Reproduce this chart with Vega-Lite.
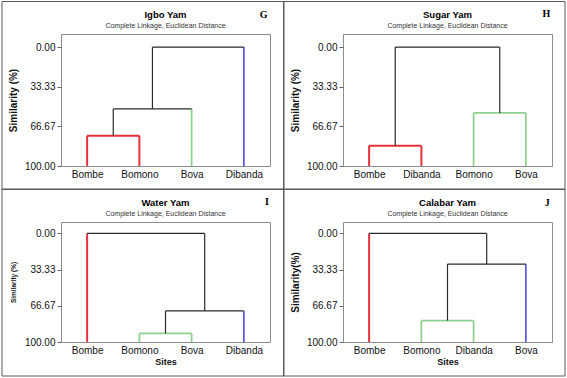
{
  "$schema": "https://vega.github.io/schema/vega-lite/v6.json",
  "padding": 0,
  "background": "white",
  "spacing": -4,
  "bounds": "full",
  "columns": 2,
  "config": {
    "view": {"stroke": "#8c8c8c", "strokeWidth": 1},
    "font": "Liberation Sans",
    "axis": {"domain": false, "grid": false, "labelFont": "Liberation Sans", "labelFontSize": 10, "labelColor": "#111", "tickColor": "#666", "titleFont": "Liberation Sans", "titleFontWeight": "bold", "titleColor": "#111"},
    "axisY": {"tickSize": 4, "labelPadding": 2, "titleFontSize": 10, "titlePadding": 6, "tickCount": 6},
    "axisX": {"ticks": false, "labelPadding": 3, "titleFontSize": 9, "titlePadding": 2},
    "title": {"font": "Liberation Sans", "fontSize": 9.5, "fontWeight": "bold", "color": "#000", "subtitleFont": "Liberation Sans", "subtitleFontSize": 7, "subtitleColor": "#333", "subtitlePadding": 2, "offset": -28, "anchor": "middle"}
  },
  "datasets": {
    "segs": [
      {"panel": "Igbo Yam", "x": 1, "x2": 1, "y": 100, "y2": 74.5, "grp": "red"},
      {"panel": "Igbo Yam", "x": 2, "x2": 2, "y": 100, "y2": 74.5, "grp": "red"},
      {"panel": "Igbo Yam", "x": 1, "x2": 2, "y": 74.5, "y2": 74.5, "grp": "red"},
      {"panel": "Igbo Yam", "x": 1.5, "x2": 1.5, "y": 74.5, "y2": 52, "grp": "black"},
      {"panel": "Igbo Yam", "x": 3, "x2": 3, "y": 100, "y2": 52, "grp": "green"},
      {"panel": "Igbo Yam", "x": 1.5, "x2": 3, "y": 52, "y2": 52, "grp": "black"},
      {"panel": "Igbo Yam", "x": 2.25, "x2": 2.25, "y": 52, "y2": 0, "grp": "black"},
      {"panel": "Igbo Yam", "x": 4, "x2": 4, "y": 100, "y2": 0, "grp": "blue"},
      {"panel": "Igbo Yam", "x": 2.25, "x2": 4, "y": 0, "y2": 0, "grp": "black"},

      {"panel": "Sugar Yam", "x": 1, "x2": 1, "y": 100, "y2": 82.9, "grp": "red"},
      {"panel": "Sugar Yam", "x": 2, "x2": 2, "y": 100, "y2": 82.9, "grp": "red"},
      {"panel": "Sugar Yam", "x": 1, "x2": 2, "y": 82.9, "y2": 82.9, "grp": "red"},
      {"panel": "Sugar Yam", "x": 3, "x2": 3, "y": 100, "y2": 55.4, "grp": "green"},
      {"panel": "Sugar Yam", "x": 4, "x2": 4, "y": 100, "y2": 55.4, "grp": "green"},
      {"panel": "Sugar Yam", "x": 3, "x2": 4, "y": 55.4, "y2": 55.4, "grp": "green"},
      {"panel": "Sugar Yam", "x": 1.5, "x2": 1.5, "y": 82.9, "y2": 0, "grp": "black"},
      {"panel": "Sugar Yam", "x": 3.5, "x2": 3.5, "y": 55.4, "y2": 0, "grp": "black"},
      {"panel": "Sugar Yam", "x": 1.5, "x2": 3.5, "y": 0, "y2": 0, "grp": "black"},

      {"panel": "Water Yam", "x": 1, "x2": 1, "y": 100, "y2": 0, "grp": "red"},
      {"panel": "Water Yam", "x": 2, "x2": 2, "y": 100, "y2": 92, "grp": "green"},
      {"panel": "Water Yam", "x": 3, "x2": 3, "y": 100, "y2": 92, "grp": "green"},
      {"panel": "Water Yam", "x": 2, "x2": 3, "y": 92, "y2": 92, "grp": "green"},
      {"panel": "Water Yam", "x": 2.5, "x2": 2.5, "y": 92, "y2": 71.4, "grp": "black"},
      {"panel": "Water Yam", "x": 4, "x2": 4, "y": 100, "y2": 71.4, "grp": "blue"},
      {"panel": "Water Yam", "x": 2.5, "x2": 4, "y": 71.4, "y2": 71.4, "grp": "black"},
      {"panel": "Water Yam", "x": 3.25, "x2": 3.25, "y": 71.4, "y2": 0, "grp": "black"},
      {"panel": "Water Yam", "x": 1, "x2": 3.25, "y": 0, "y2": 0, "grp": "black"},

      {"panel": "Calabar Yam", "x": 1, "x2": 1, "y": 100, "y2": 0, "grp": "red"},
      {"panel": "Calabar Yam", "x": 2, "x2": 2, "y": 100, "y2": 80.3, "grp": "green"},
      {"panel": "Calabar Yam", "x": 3, "x2": 3, "y": 100, "y2": 80.3, "grp": "green"},
      {"panel": "Calabar Yam", "x": 2, "x2": 3, "y": 80.3, "y2": 80.3, "grp": "green"},
      {"panel": "Calabar Yam", "x": 2.5, "x2": 2.5, "y": 80.3, "y2": 28.3, "grp": "black"},
      {"panel": "Calabar Yam", "x": 4, "x2": 4, "y": 100, "y2": 28.3, "grp": "blue"},
      {"panel": "Calabar Yam", "x": 2.5, "x2": 4, "y": 28.3, "y2": 28.3, "grp": "black"},
      {"panel": "Calabar Yam", "x": 3.25, "x2": 3.25, "y": 28.3, "y2": 0, "grp": "black"},
      {"panel": "Calabar Yam", "x": 1, "x2": 3.25, "y": 0, "y2": 0, "grp": "black"}
    ]
  },
  "concat": [
    {
      "width": 209, "height": 132,
      "title": {"text": "Igbo Yam", "subtitle": "Complete Linkage, Euclidean Distance"},
      "layer": [
        {
          "data": {"name": "segs"},
          "transform": [{"filter": "datum.panel === 'Igbo Yam'"}],
          "mark": {"type": "rule"},
          "encoding": {
            "x": {"field": "x", "type": "quantitative", "scale": {"domain": [0.5, 4.5], "nice": false, "zero": false}, "axis": {"values": [1, 2, 3, 4], "labelExpr": "['','Bombe','Bomono','Bova','Dibanda'][datum.value]", "title": null}},
            "x2": {"field": "x2"},
            "y": {"field": "y", "type": "quantitative", "scale": {"domain": [-11, 100], "reverse": true, "nice": false, "zero": false}, "axis": {"values": [0, 33.33, 66.67, 100], "format": ".2f", "title": "Similarity (%)"}},
            "y2": {"field": "y2"},
            "color": {"field": "grp", "type": "nominal", "scale": {"domain": ["red", "green", "blue", "black"], "range": ["#e8303a", "#8ed08e", "#3a3ae6", "#2a2a2a"]}, "legend": null},
            "strokeWidth": {"field": "grp", "type": "nominal", "scale": {"domain": ["red", "green", "blue", "black"], "range": [2, 1.2, 1.5, 1.5]}, "legend": null}
          }
        },
        {
          "data": {"values": [{"label": "G"}]},
          "mark": {"type": "rect", "filled": false, "color": "#5a5a5a", "strokeWidth": 1, "strokeJoin": "bevel"},
          "encoding": {"x": {"datum": -0.6292}, "x2": {"datum": 4.768}, "y": {"datum": -38.33}, "y2": {"datum": 119.76}}
        },
        {
          "data": {"values": [{"label": "G"}]},
          "mark": {"type": "text", "font": "Liberation Serif", "fontWeight": "bold", "fontSize": 10, "align": "center", "baseline": "middle", "color": "#000"},
          "encoding": {"x": {"datum": 4.379}, "y": {"datum": -26.56}, "text": {"field": "label"}}
        }
      ]
    },
    {
      "width": 209, "height": 132,
      "title": {"text": "Sugar Yam", "subtitle": "Complete Linkage, Euclidean Distance"},
      "layer": [
        {
          "data": {"name": "segs"},
          "transform": [{"filter": "datum.panel === 'Sugar Yam'"}],
          "mark": {"type": "rule"},
          "encoding": {
            "x": {"field": "x", "type": "quantitative", "scale": {"domain": [0.5, 4.5], "nice": false, "zero": false}, "axis": {"values": [1, 2, 3, 4], "labelExpr": "['','Bombe','Dibanda','Bomono','Bova'][datum.value]", "title": null}},
            "x2": {"field": "x2"},
            "y": {"field": "y", "type": "quantitative", "scale": {"domain": [-11, 100], "reverse": true, "nice": false, "zero": false}, "axis": {"values": [0, 33.33, 66.67, 100], "format": ".2f", "title": "Similarity (%)"}},
            "y2": {"field": "y2"},
            "color": {"field": "grp", "type": "nominal", "scale": {"domain": ["red", "green", "blue", "black"], "range": ["#e8303a", "#8ed08e", "#3a3ae6", "#2a2a2a"]}, "legend": null},
            "strokeWidth": {"field": "grp", "type": "nominal", "scale": {"domain": ["red", "green", "blue", "black"], "range": [2, 1.2, 1.5, 1.5]}, "legend": null}
          }
        },
        {
          "data": {"values": [{"label": "H"}]},
          "mark": {"type": "rect", "filled": false, "color": "#5a5a5a", "strokeWidth": 1, "strokeJoin": "bevel"},
          "encoding": {"x": {"datum": -0.6388}, "x2": {"datum": 4.7488}, "y": {"datum": -38.33}, "y2": {"datum": 119.76}}
        },
        {
          "data": {"values": [{"label": "H"}]},
          "mark": {"type": "text", "font": "Liberation Serif", "fontWeight": "bold", "fontSize": 10, "align": "center", "baseline": "middle", "color": "#000"},
          "encoding": {"x": {"datum": 4.395}, "y": {"datum": -27.8}, "text": {"field": "label"}}
        }
      ]
    },
    {
      "width": 209, "height": 120,
      "title": {"text": "Water Yam", "subtitle": "Complete Linkage, Euclidean Distance", "offset": -28.5},
      "layer": [
        {
          "data": {"name": "segs"},
          "transform": [{"filter": "datum.panel === 'Water Yam'"}],
          "mark": {"type": "rule"},
          "encoding": {
            "x": {"field": "x", "type": "quantitative", "scale": {"domain": [0.5, 4.5], "nice": false, "zero": false}, "axis": {"values": [1, 2, 3, 4], "labelExpr": "['','Bombe','Bomono','Bova','Dibanda'][datum.value]", "title": "Sites"}},
            "x2": {"field": "x2"},
            "y": {"field": "y", "type": "quantitative", "scale": {"domain": [-10.5, 100], "reverse": true, "nice": false, "zero": false}, "axis": {"values": [0, 33.33, 66.67, 100], "format": ".2f", "title": "Similarity (%)", "titleFontSize": 6.5, "titlePadding": 8}},
            "y2": {"field": "y2"},
            "color": {"field": "grp", "type": "nominal", "scale": {"domain": ["red", "green", "blue", "black"], "range": ["#e8303a", "#8ed08e", "#3a3ae6", "#2a2a2a"]}, "legend": null},
            "strokeWidth": {"field": "grp", "type": "nominal", "scale": {"domain": ["red", "green", "blue", "black"], "range": [2, 1.2, 1.5, 1.5]}, "legend": null}
          }
        },
        {
          "data": {"values": [{"label": "I"}]},
          "mark": {"type": "rect", "filled": false, "color": "#5a5a5a", "strokeWidth": 1, "strokeJoin": "bevel"},
          "encoding": {"x": {"datum": -0.6292}, "x2": {"datum": 4.768}, "y": {"datum": -40.89}, "y2": {"datum": 131.31}}
        },
        {
          "data": {"values": [{"label": "I"}]},
          "mark": {"type": "text", "font": "Liberation Serif", "fontWeight": "bold", "fontSize": 10, "align": "center", "baseline": "middle", "color": "#000"},
          "encoding": {"x": {"datum": 4.443}, "y": {"datum": -29.19}, "text": {"field": "label"}}
        }
      ]
    },
    {
      "width": 209, "height": 120,
      "title": {"text": "Calabar Yam", "subtitle": "Complete Linkage, Euclidean Distance", "offset": -28.5},
      "layer": [
        {
          "data": {"name": "segs"},
          "transform": [{"filter": "datum.panel === 'Calabar Yam'"}],
          "mark": {"type": "rule"},
          "encoding": {
            "x": {"field": "x", "type": "quantitative", "scale": {"domain": [0.5, 4.5], "nice": false, "zero": false}, "axis": {"values": [1, 2, 3, 4], "labelExpr": "['','Bombe','Bomono','Dibanda','Bova'][datum.value]", "title": "Sites"}},
            "x2": {"field": "x2"},
            "y": {"field": "y", "type": "quantitative", "scale": {"domain": [-10.5, 100], "reverse": true, "nice": false, "zero": false}, "axis": {"values": [0, 33.33, 66.67, 100], "format": ".2f", "title": "Similarity(%)"}},
            "y2": {"field": "y2"},
            "color": {"field": "grp", "type": "nominal", "scale": {"domain": ["red", "green", "blue", "black"], "range": ["#e8303a", "#8ed08e", "#3a3ae6", "#2a2a2a"]}, "legend": null},
            "strokeWidth": {"field": "grp", "type": "nominal", "scale": {"domain": ["red", "green", "blue", "black"], "range": [2, 1.2, 1.5, 1.5]}, "legend": null}
          }
        },
        {
          "data": {"values": [{"label": "J"}]},
          "mark": {"type": "rect", "filled": false, "color": "#5a5a5a", "strokeWidth": 1, "strokeJoin": "bevel"},
          "encoding": {"x": {"datum": -0.6388}, "x2": {"datum": 4.7488}, "y": {"datum": -40.89}, "y2": {"datum": 131.31}}
        },
        {
          "data": {"values": [{"label": "J"}]},
          "mark": {"type": "text", "font": "Liberation Serif", "fontWeight": "bold", "fontSize": 10, "align": "center", "baseline": "middle", "color": "#000"},
          "encoding": {"x": {"datum": 4.408}, "y": {"datum": -28.27}, "text": {"field": "label"}}
        }
      ]
    }
  ]
}
